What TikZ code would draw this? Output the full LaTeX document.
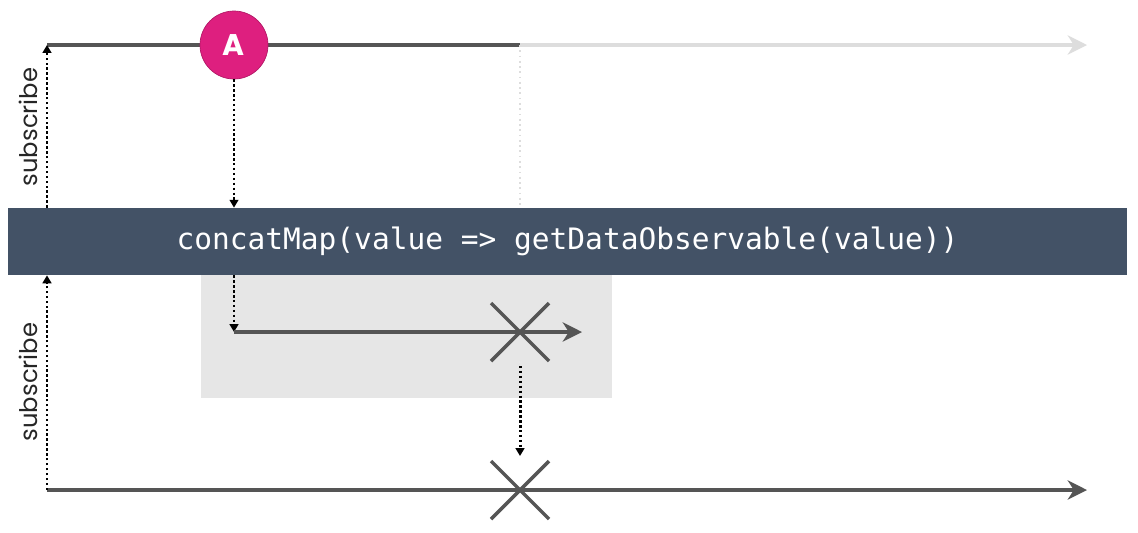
\documentclass[tikz,border=0pt]{standalone}
\usepackage{fontspec}
\setmainfont{Poppins}
\newfontfamily\codefont{DejaVu Sans Mono}
\usetikzlibrary{arrows.meta,calc}
\definecolor{lineg}{HTML}{555555}
\definecolor{fadeg}{HTML}{DDDDDD}
\definecolor{bandc}{HTML}{435266}
\definecolor{boxg}{HTML}{E6E6E6}
\definecolor{marble}{HTML}{DE1F7F}
\tikzset{
  timeline/.style={draw=lineg, line width=2.3pt, -{Stealth[length=11pt,width=11pt,inset=3.5pt]}},
  dotarrow/.style={draw=black, line width=1.7pt, dash pattern=on 1.4pt off 1.4pt, -{Triangle[length=4.5pt,width=5pt]}},
  cross/.style={draw=lineg, line width=2pt},
}
\begin{document}
\begin{tikzpicture}[x=0.02cm, y=-0.02cm]
      \useasboundingbox (0,0) rectangle (1138,532);
      % inner box and operator band
      \fill[boxg] (201,275) rectangle (612,398);
      \node[fill=bandc, minimum width=1119*0.02cm, minimum height=67*0.02cm, inner sep=0pt,
            text=white, font=\codefont\fontsize{16.8}{18}\selectfont] (op) at (567.5,241.5)
            {concatMap(value => getDataObservable(value))};
      % source timeline
      \coordinate (s0) at (47,45);
      \coordinate (s1) at (520,45);
      \coordinate (s2) at (1087,45);
      \draw[fadeg, line width=2.3pt, -{Stealth[length=11pt,width=11pt,inset=3.5pt]}] (s1) -- (s2);
      \draw[lineg, line width=2.3pt] (s0) -- (s1);
      \draw[fadeg, line width=1pt, dotted] (s1) -- (s1 |- op.north);
      \node[circle, fill=marble, draw=marble!80!black, minimum size=68*0.02cm, inner sep=0pt,
            text=white, font=\bfseries\fontsize{17}{17}\selectfont] (a) at (234,45) {A};
      \draw[dotarrow] (s0 |- op.north) -- (s0);
      \node[rotate=90, text=black!85, font=\fontsize{13.8}{14}\selectfont] (sub1) at (28,127) {subscribe};
      \draw[dotarrow] (a) -- (a |- op.north);
      % inner observable
      \coordinate (i0) at (234,332);
      \coordinate (i1) at (582,332);
      \coordinate (ix) at (520,332);
      \draw[dotarrow] (i0 |- op.south) -- (i0);
      \draw[timeline] (i0) -- (i1);
      \draw[cross] ($(ix)+(-29,-29)$) -- ($(ix)+(29,29)$);
      \draw[cross] ($(ix)+(-29,29)$) -- ($(ix)+(29,-29)$);
      % output timeline
      \coordinate (o0) at (47,490);
      \coordinate (o1) at (1087,490);
      \coordinate (ox) at (520,490);
      \coordinate (d0) at (520,366);
      \coordinate (d1) at (520,456);
      \draw[dotarrow] (d0) -- (d1);
      \draw[timeline] (o0) -- (o1);
      \draw[cross] ($(ox)+(-29,-29)$) -- ($(ox)+(29,29)$);
      \draw[cross] ($(ox)+(-29,29)$) -- ($(ox)+(29,-29)$);
      \draw[dotarrow] (o0) -- (o0 |- op.south);
      \node[rotate=90, text=black!85, font=\fontsize{13.8}{14}\selectfont] (sub2) at (28,382) {subscribe};
    \end{tikzpicture}
\end{document}
